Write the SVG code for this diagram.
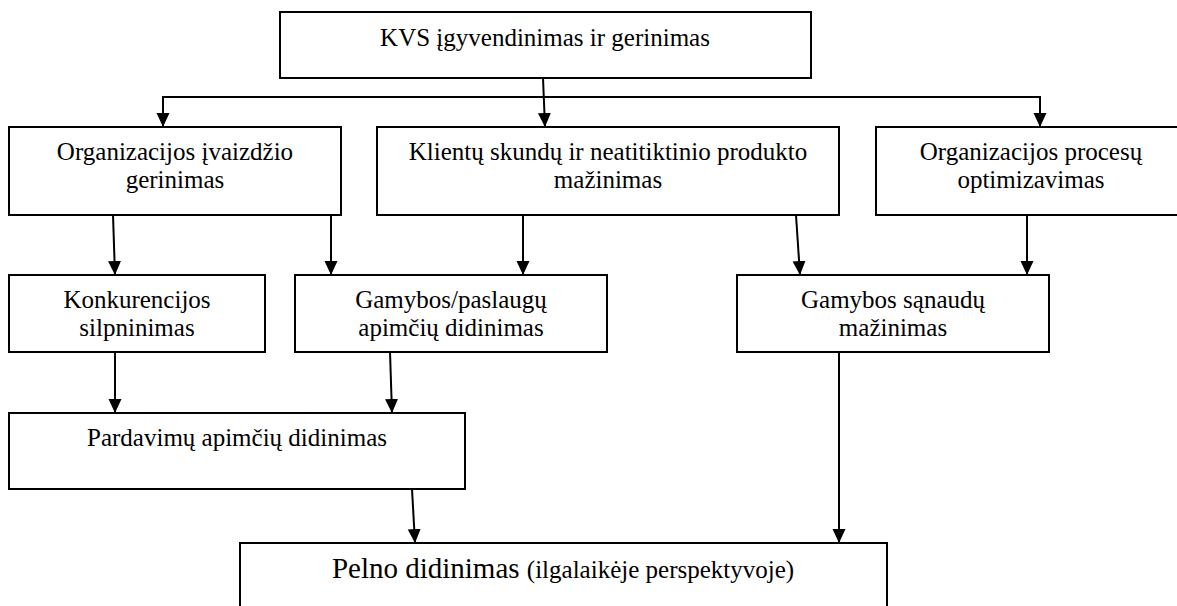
<svg xmlns="http://www.w3.org/2000/svg" width="1177" height="606" viewBox="0 0 1177 606">
  <style>
    .box { fill: #ffffff; stroke: #000000; stroke-width: 2; }
    .lbl { font-family: "Liberation Serif", "Times New Roman", serif; font-size: 25px; fill: #000000; text-anchor: middle; }
    .big { font-size: 29px; }
    .link { fill: none; stroke: #000000; stroke-width: 2; }
    .arr { marker-end: url(#head); }
  </style>
  <defs>
    <marker id="head" markerUnits="userSpaceOnUse" markerWidth="14" markerHeight="14" refX="14" refY="6.5" orient="auto">
      <path d="M0,0 L14,6.5 L0,13 z" fill="#000000"/>
    </marker>
  </defs>
  <rect width="1177" height="606" fill="#ffffff"/>

  <g id="connectors">
    <!-- top box fan-out -->
    <line class="link arr" x1="543" y1="78" x2="545" y2="127"/>
    <polyline class="link" points="163,97 1040,97"/>
    <line class="link arr" x1="163" y1="96" x2="163" y2="127"/>
    <line class="link arr" x1="1040" y1="96" x2="1040" y2="127"/>
    <!-- second row to third row -->
    <line class="link arr" x1="113" y1="215" x2="115" y2="275"/>
    <line class="link arr" x1="331" y1="215" x2="331" y2="275"/>
    <line class="link arr" x1="523" y1="215" x2="523" y2="275"/>
    <line class="link arr" x1="796" y1="215" x2="800" y2="275"/>
    <line class="link arr" x1="1027" y1="215" x2="1027" y2="275"/>
    <!-- third row to sales -->
    <line class="link arr" x1="115" y1="352" x2="115" y2="413"/>
    <line class="link arr" x1="390" y1="352" x2="392" y2="413"/>
    <!-- to profit -->
    <line class="link arr" x1="412" y1="489" x2="415" y2="543"/>
    <line class="link arr" x1="839" y1="352" x2="839" y2="543"/>
  </g>

  <g id="kvs">
    <rect class="box" x="280" y="12" width="531" height="66"/>
    <text class="lbl" x="545" y="46">KVS įgyvendinimas ir gerinimas</text>
  </g>

  <g id="ivaizdis">
    <rect class="box" x="9" y="127" width="332" height="88"/>
    <text class="lbl" x="175" y="160">Organizacijos įvaizdžio</text>
    <text class="lbl" x="175" y="188">gerinimas</text>
  </g>

  <g id="skundai">
    <rect class="box" x="377" y="127" width="462" height="88"/>
    <text class="lbl" x="608" y="160">Klientų skundų ir neatitiktinio produkto</text>
    <text class="lbl" x="608" y="188">mažinimas</text>
  </g>

  <g id="procesai">
    <rect class="box" x="876" y="127" width="311" height="88"/>
    <text class="lbl" x="1031" y="160">Organizacijos procesų</text>
    <text class="lbl" x="1031" y="188">optimizavimas</text>
  </g>

  <g id="konkurencija">
    <rect class="box" x="9" y="275" width="256" height="77"/>
    <text class="lbl" x="137" y="308">Konkurencijos</text>
    <text class="lbl" x="137" y="336">silpninimas</text>
  </g>

  <g id="apimtys">
    <rect class="box" x="295" y="275" width="312" height="77"/>
    <text class="lbl" x="451" y="308">Gamybos/paslaugų</text>
    <text class="lbl" x="451" y="336">apimčių didinimas</text>
  </g>

  <g id="sanaudos">
    <rect class="box" x="737" y="275" width="312" height="77"/>
    <text class="lbl" x="893" y="308">Gamybos sąnaudų</text>
    <text class="lbl" x="893" y="336">mažinimas</text>
  </g>

  <g id="pardavimai">
    <rect class="box" x="9" y="413" width="456" height="76"/>
    <text class="lbl" x="237" y="446">Pardavimų apimčių didinimas</text>
  </g>

  <g id="pelnas">
    <rect class="box" x="240" y="543" width="647" height="80"/>
    <text class="lbl" x="563" y="578"><tspan class="big">Pelno didinimas </tspan>(ilgalaikėje perspektyvoje)</text>
  </g>
</svg>
